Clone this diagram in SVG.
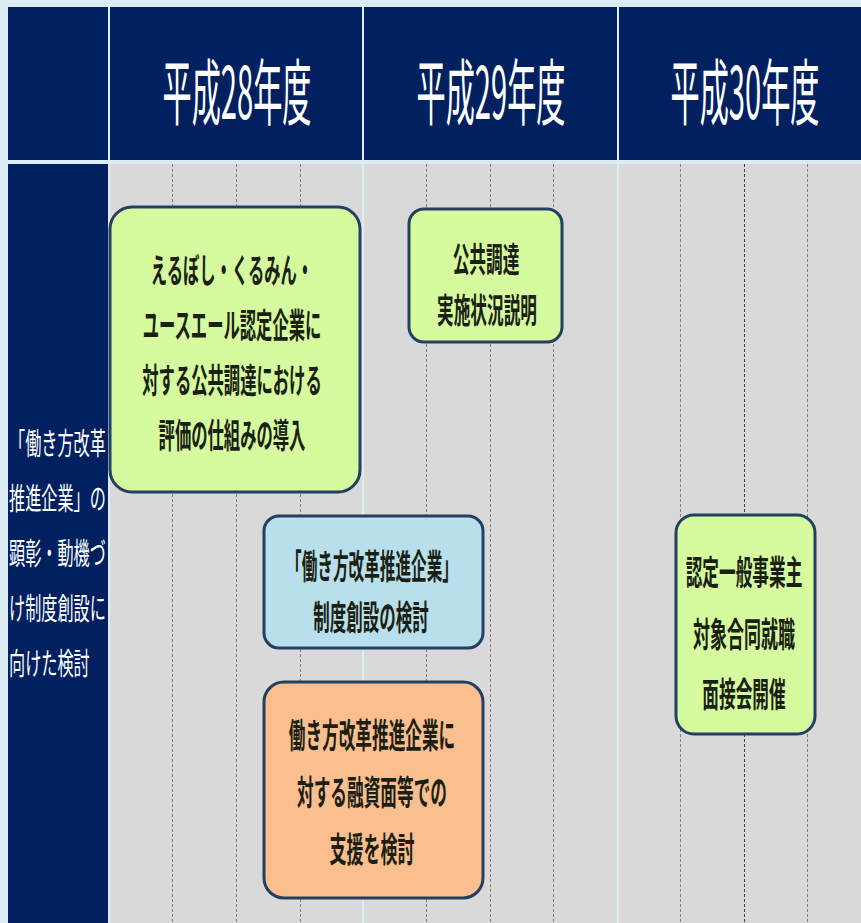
<svg xmlns="http://www.w3.org/2000/svg" width="861" height="923" viewBox="0 0 861 923">
<style>
.hdr{fill:#002060}
.yr{fill:#ffffff;font-family:"Noto Sans CJK JP","Noto Sans",sans-serif;font-size:72px;font-weight:400;text-anchor:middle;dominant-baseline:central}
.side{fill:#ffffff;font-family:"Noto Sans CJK JP","Noto Sans",sans-serif;font-size:30px;font-weight:400;dominant-baseline:central}
.grid{stroke:#7f7f7f;stroke-width:1;stroke-dasharray:3 2;fill:none}
.grid2{stroke:#3f3f3f;stroke-width:1;stroke-dasharray:3 2;fill:none}
.box{stroke:#233f61;stroke-width:3}
.g{fill:#d5fb9e}
.b{fill:#b8dfeb}
.o{fill:#fbbf8f}
.t{fill:#1b1f14;font-family:"Noto Sans CJK JP","Noto Sans",sans-serif;font-size:34px;font-weight:700;text-anchor:middle;dominant-baseline:central}
</style>
<rect x="0" y="0" width="861" height="923" fill="#dcedf4"/>
<g id="header">
<rect class="hdr" x="8" y="7" width="100" height="153"/>
<rect class="hdr" x="110" y="7" width="252" height="153"/>
<rect class="hdr" x="364" y="7" width="253" height="153"/>
<rect class="hdr" x="619" y="7" width="242" height="153"/>
<text class="yr" transform="translate(237,88) scale(0.405,1)">平成28年度</text>
<text class="yr" transform="translate(491,88) scale(0.405,1)">平成29年度</text>
<text class="yr" transform="translate(745,88) scale(0.405,1)">平成30年度</text>
</g>
<g id="body">
<rect x="110" y="164" width="252" height="759" fill="#d9d9d9"/>
<rect x="364" y="164" width="253" height="759" fill="#d9d9d9"/>
<rect x="619" y="164" width="242" height="759" fill="#d9d9d9"/>
</g>
<g id="side-label">
<rect class="hdr" x="8" y="164" width="100" height="759"/>
<text class="side" transform="translate(9,441) scale(0.538,1)">「働き方改革</text>
<text class="side" transform="translate(9,496) scale(0.538,1)">推進企業」の</text>
<text class="side" transform="translate(9,551) scale(0.538,1)">顕彰・動機づ</text>
<text class="side" transform="translate(9,606) scale(0.538,1)">け制度創設に</text>
<text class="side" transform="translate(9,661) scale(0.538,1)">向けた検討</text>
</g>
<g id="gridlines">
<line class="grid" x1="172.5" y1="164" x2="172.5" y2="923"/>
<line class="grid" x1="236.5" y1="164" x2="236.5" y2="923"/>
<line class="grid" x1="300.5" y1="164" x2="300.5" y2="923"/>
<line class="grid" x1="426.5" y1="164" x2="426.5" y2="923"/>
<line class="grid" x1="490.5" y1="164" x2="490.5" y2="923"/>
<line class="grid" x1="553.5" y1="164" x2="553.5" y2="923"/>
<line class="grid" x1="680.5" y1="164" x2="680.5" y2="923"/>
<line class="grid2" x1="744.5" y1="164" x2="744.5" y2="923"/>
<line class="grid" x1="807.5" y1="164" x2="807.5" y2="923"/>
</g>
<g id="node-eruboshi">
<rect class="box g" x="110" y="207" width="250" height="285" rx="22"/>
<text class="t" transform="translate(232,268) scale(0.48,1)">えるぼし・くるみん・</text>
<text class="t" transform="translate(232,323) scale(0.48,1)">ユースエール認定企業に</text>
<text class="t" transform="translate(232,378) scale(0.48,1)">対する公共調達における</text>
<text class="t" transform="translate(232,433) scale(0.48,1)">評価の仕組みの導入</text>
</g>
<g id="node-kokyo">
<rect class="box g" x="409" y="209" width="153" height="133" rx="15"/>
<text class="t" transform="translate(486,257) scale(0.49,1)">公共調達</text>
<text class="t" transform="translate(487,308) scale(0.49,1)">実施状況説明</text>
</g>
<g id="node-seido">
<rect class="box b" x="264" y="516" width="219" height="132" rx="15"/>
<text class="t" transform="translate(372,564) scale(0.46,1)">「働き方改革推進企業」</text>
<text class="t" transform="translate(371,615) scale(0.485,1)">制度創設の検討</text>
</g>
<g id="node-yushi">
<rect class="box o" x="264" y="682" width="219" height="216" rx="20"/>
<text class="t" transform="translate(372,733) scale(0.49,1)">働き方改革推進企業に</text>
<text class="t" transform="translate(372,790) scale(0.49,1)">対する融資面等での</text>
<text class="t" transform="translate(372,847) scale(0.5,1)">支援を検討</text>
</g>
<g id="node-mensetsu">
<rect class="box g" x="676" y="515" width="139" height="219" rx="18"/>
<text class="t" transform="translate(744,570) scale(0.49,1)">認定一般事業主</text>
<text class="t" transform="translate(744,632) scale(0.5,1)">対象合同就職</text>
<text class="t" transform="translate(744,692) scale(0.49,1)">面接会開催</text>
</g>
<g id="connectors"></g>
</svg>
